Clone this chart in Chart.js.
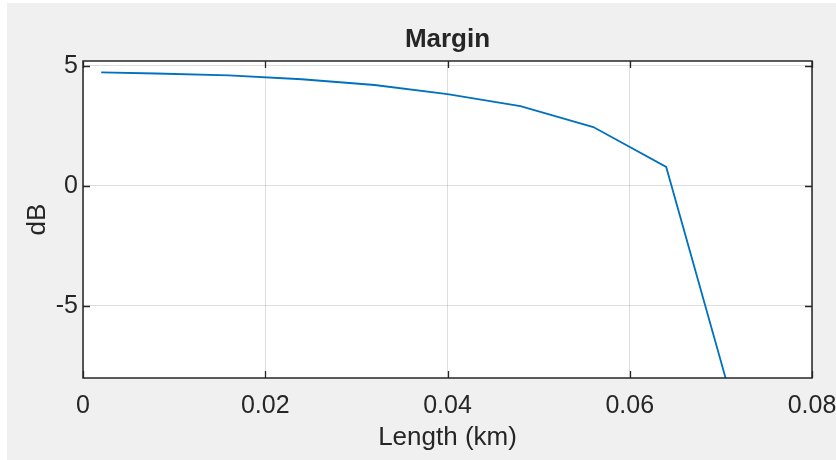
<!DOCTYPE html>
<html>
<head>
<meta charset="utf-8">
<script src="https://cdn.jsdelivr.net/npm/chart.js@4/dist/chart.umd.min.js"></script>
<style>
  html, body { margin: 0; padding: 0; background: #ffffff; }
  #wrap { width: 836px; height: 460px; position: relative; }
</style>
</head>
<body>
<div id="wrap"><canvas id="c" width="836" height="460"></canvas></div>
<script>
// ---- data ----
const lengthKm = [0.002, 0.008, 0.016, 0.024, 0.032, 0.040, 0.048, 0.056, 0.064, 0.072];
const marginDb = [4.73, 4.68, 4.60, 4.44, 4.20, 3.82, 3.32, 2.45, 0.79, -10.0];
const xTicks = [0, 0.02, 0.04, 0.06, 0.08];
const xTickLabels = ['0', '0.02', '0.04', '0.06', '0.08'];
const yTicks = [-5, 0, 5];
const yTickLabels = ['-5', '0', '5'];
const titleText = 'Margin';
const xTitle = 'Length (km)';
const yTitle = 'dB';

const FONT = "'Liberation Sans', Arial, sans-serif";
const TEXT = '#262626';
const TICK_SIZE = 25;
const LABEL_SIZE = 26;

const matlabFrame = {
  id: 'matlabFrame',
  beforeDraw(chart) {
    const ctx = chart.ctx;
    const a = chart.chartArea;
    ctx.save();
    ctx.fillStyle = '#ffffff';
    ctx.fillRect(0, 0, chart.width, chart.height);
    ctx.fillStyle = '#f0f0f0';
    ctx.fillRect(7, 3, chart.width - 7, chart.height - 3);
    ctx.fillStyle = '#ffffff';
    ctx.fillRect(a.left, a.top, a.right - a.left, a.bottom - a.top);
    ctx.restore();
  },
  afterDraw(chart) {
    const ctx = chart.ctx;
    const a = chart.chartArea;
    const xs = chart.scales.x, ys = chart.scales.y;
    const tl = 7;
    ctx.save();
    ctx.strokeStyle = TEXT;
    ctx.lineWidth = 1.3;
    ctx.beginPath();
    xTicks.forEach(v => {
      const px = Math.round(xs.getPixelForValue(v)) + 0.5;
      ctx.moveTo(px, a.bottom); ctx.lineTo(px, a.bottom - tl);
      ctx.moveTo(px, a.top); ctx.lineTo(px, a.top + tl);
    });
    yTicks.forEach(v => {
      const py = Math.round(ys.getPixelForValue(v)) + 0.5;
      ctx.moveTo(a.left, py); ctx.lineTo(a.left + tl, py);
      ctx.moveTo(a.right, py); ctx.lineTo(a.right - tl, py);
    });
    ctx.stroke();
    ctx.lineWidth = 1.5;
    ctx.strokeRect(a.left, a.top, a.right - a.left, a.bottom - a.top);
    // title centred over the axes box
    ctx.fillStyle = TEXT;
    ctx.font = 'bold ' + LABEL_SIZE + 'px ' + FONT;
    ctx.textAlign = 'center';
    ctx.textBaseline = 'middle';
    ctx.fillText(titleText, (a.left + a.right) / 2, 40);
    ctx.restore();
  }
};

new Chart(document.getElementById('c'), {
  type: 'line',
  data: {
    datasets: [{
      data: lengthKm.map((x, i) => ({ x: x, y: marginDb[i] })),
      borderColor: '#0072BD',
      borderWidth: 1.8,
      pointRadius: 0,
      tension: 0,
      fill: false
    }]
  },
  options: {
    responsive: false,
    animation: false,
    devicePixelRatio: 1,
    layout: { autoPadding: false, padding: { top: 61, right: 24, left: 0, bottom: 0 } },
    plugins: {
      legend: { display: false },
      tooltip: { enabled: false },
      title: { display: false }
    },
    scales: {
      x: {
        type: 'linear',
        min: 0, max: 0.08,
        afterBuildTicks: s => { s.ticks = xTicks.map(v => ({ value: v })); },
        afterFit: s => { s.height = 82; s.paddingLeft = 0; s.paddingRight = 0; },
        grid: { color: 'rgba(0,0,0,0.13)', lineWidth: 1, drawTicks: false },
        border: { display: false },
        ticks: {
          color: TEXT,
          font: { family: FONT, size: TICK_SIZE },
          padding: 13,
          maxRotation: 0,
          autoSkip: false,
          callback: (v) => { const i = xTicks.indexOf(v); return i >= 0 ? xTickLabels[i] : ''; }
        },
        title: {
          display: true, text: xTitle, color: TEXT,
          font: { family: FONT, size: LABEL_SIZE },
          padding: { top: 0, bottom: 7 }
        }
      },
      y: {
        type: 'linear',
        min: -8, max: 5.2,
        afterBuildTicks: s => { s.ticks = yTicks.map(v => ({ value: v })); },
        afterFit: s => { s.width = 83; s.paddingTop = 0; s.paddingBottom = 0; },
        grid: { color: 'rgba(0,0,0,0.13)', lineWidth: 1, drawTicks: false },
        border: { display: false },
        ticks: {
          color: TEXT,
          font: { family: FONT, size: TICK_SIZE },
          padding: 5,
          autoSkip: false,
          callback: (v) => { const i = yTicks.indexOf(v); return i >= 0 ? yTickLabels[i] : ''; }
        },
        title: {
          display: true, text: yTitle, color: TEXT,
          font: { family: FONT, size: LABEL_SIZE },
          padding: { top: 22, bottom: 0 }
        }
      }
    }
  },
  plugins: [matlabFrame]
});
</script>
</body>
</html>
